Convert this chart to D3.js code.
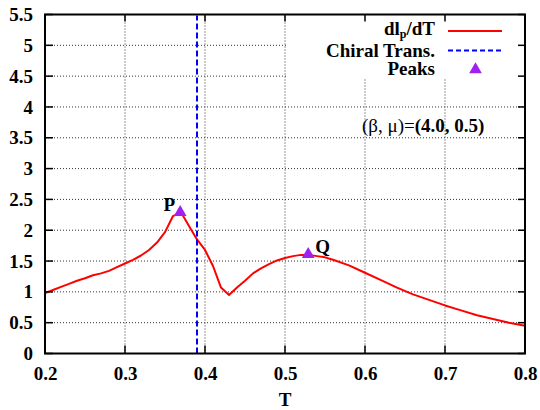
<!DOCTYPE html>
<html><head><meta charset="utf-8">
<script src="https://cdn.jsdelivr.net/npm/d3@7/dist/d3.min.js"></script>
<style>body{margin:0;background:#fff}svg{display:block}</style>
</head><body>
<svg id="c" width="540" height="410"></svg>
<script>
const T = [0.20,0.21,0.22,0.23,0.24,0.25,0.26,0.27,0.28,0.29,0.30,0.31,0.32,0.33,0.34,0.35,0.36,0.37,0.38,0.39,0.40,0.41,0.42,0.43,0.44,0.45,0.46,0.47,0.48,0.49,0.50,0.51,0.52,0.53,0.54,0.55,0.56,0.58,0.60,0.62,0.64,0.66,0.68,0.70,0.72,0.74,0.76,0.78,0.80];
const dIdT = [0.98,1.03,1.08,1.13,1.18,1.22,1.27,1.30,1.34,1.40,1.46,1.52,1.59,1.68,1.80,1.97,2.23,2.29,2.07,1.85,1.68,1.42,1.07,0.95,1.07,1.18,1.30,1.38,1.45,1.51,1.55,1.58,1.60,1.60,1.58,1.56,1.52,1.43,1.31,1.19,1.07,0.96,0.87,0.78,0.70,0.62,0.56,0.50,0.45];
const chiralT = 0.39;
const peakT = [0.369, 0.529];
const peakV = [2.29, 1.61];
const peakLabels = ["P", "Q"];
const xTicks = [0.2,0.3,0.4,0.5,0.6,0.7,0.8];
const yTicks = [0,0.5,1,1.5,2,2.5,3,3.5,4,4.5,5,5.5];
const legendLabels = ["dl_p/dT","Chiral Trans.","Peaks"];

const FONT = "'Liberation Serif','Times New Roman',Times,Tinos,'DejaVu Serif',serif";
const svg = d3.select("#c").style("font-family", FONT);
const L=45, R=525, Tp=14.5, B=353.5;
const x = d3.scaleLinear().domain([0.2,0.8]).range([L,R]);
const y = d3.scaleLinear().domain([0,5.5]).range([B,Tp]);
const purple = "#a020f0";

// grid
const g = svg.append("g");
g.selectAll(".gx").data(xTicks.slice(1,-1)).enter().append("line")
  .attr("x1",d=>x(d)).attr("x2",d=>x(d)).attr("y1",B).attr("y2",Tp)
  .attr("stroke","#333").attr("stroke-width",1).attr("stroke-dasharray","1,2");
g.selectAll(".gy").data(yTicks.slice(1,-1)).enter().append("line")
  .attr("y1",d=>y(d)).attr("y2",d=>y(d)).attr("x1",L).attr("x2",R)
  .attr("stroke","#333").attr("stroke-width",1).attr("stroke-dasharray","1,2");

// legend box (opaque)
svg.append("rect").attr("x",286).attr("y",Tp).attr("width",R-286).attr("height",79-Tp).attr("fill","#fff");

// curve
const line = d3.line().x((d,i)=>x(T[i])).y(d=>y(d));
svg.append("path").datum(dIdT).attr("d",line).attr("fill","none").attr("stroke","#ff0000").attr("stroke-width",2).attr("stroke-linejoin","round");

// chiral line
svg.append("line").attr("x1",x(chiralT)).attr("x2",x(chiralT)).attr("y1",B).attr("y2",Tp+1)
  .attr("stroke","#0000ff").attr("stroke-width",2).attr("stroke-dasharray","6,3");

// peaks
const tri = d3.symbol().type(d3.symbolTriangle).size(70);
svg.selectAll(".pk").data(peakT).enter().append("path")
  .attr("d",tri).attr("transform",(d,i)=>`translate(${x(d)},${y(peakV[i])})`).attr("fill",purple);
svg.selectAll(".pl").data(peakLabels).enter().append("text")
  .attr("x",(d,i)=>x(peakT[i])+(i===0?-11:7)).attr("y",(d,i)=>y(peakV[i])-1)
  .attr("text-anchor",(d,i)=>i===0?"middle":"start")
  .attr("font-size",19).attr("font-weight","bold").text(d=>d);

// axes
const xa = svg.append("g").attr("transform",`translate(0,${B})`)
  .call(d3.axisBottom(x).tickValues(xTicks).tickSize(0).tickPadding(13).tickFormat(d3.format(".1f")));
const ya = svg.append("g").attr("transform",`translate(${L},0)`)
  .call(d3.axisLeft(y).tickValues(yTicks).tickSize(0).tickPadding(12).tickFormat(d=>d));
[xa,ya].forEach(a=>{a.attr("font-family",FONT);a.select(".domain").remove();a.selectAll("text").attr("font-size",19).attr("font-weight","bold").attr("fill","#000");});

// inner ticks on all sides
const tk = svg.append("g").attr("stroke","#000").attr("stroke-width",1.5);
xTicks.forEach(d=>{
  tk.append("line").attr("x1",x(d)).attr("x2",x(d)).attr("y1",B).attr("y2",B-8);
  tk.append("line").attr("x1",x(d)).attr("x2",x(d)).attr("y1",Tp).attr("y2",Tp+7);
});
yTicks.forEach(d=>{
  tk.append("line").attr("y1",y(d)).attr("y2",y(d)).attr("x1",L).attr("x2",L+8);
  tk.append("line").attr("y1",y(d)).attr("y2",y(d)).attr("x1",R).attr("x2",R-7);
});

// border
svg.append("rect").attr("x",L).attr("y",Tp).attr("width",R-L).attr("height",B-Tp).attr("fill","none").attr("stroke","#000").attr("stroke-width",2);

// x label
svg.append("text").attr("x",(L+R)/2).attr("y",406).attr("text-anchor","middle").attr("font-size",19).attr("font-weight","bold").text("T");

// legend
const lg = svg.append("g").attr("font-size",19).attr("font-weight","bold");
const t0 = lg.append("text").attr("x",435).attr("y",35).attr("text-anchor","end");
t0.append("tspan").text("dl");
t0.append("tspan").attr("font-size",12).attr("dy",3).text("p");
t0.append("tspan").attr("dy",-3).text("/dT");
lg.append("text").attr("x",435).attr("y",56.5).attr("text-anchor","end").text(legendLabels[1]);
lg.append("text").attr("x",435).attr("y",75).attr("text-anchor","end").text(legendLabels[2]);
svg.append("line").attr("x1",448).attr("x2",502).attr("y1",31).attr("y2",31).attr("stroke","#ff0000").attr("stroke-width",2);
svg.append("line").attr("x1",448).attr("x2",502).attr("y1",50.5).attr("y2",50.5).attr("stroke","#0000ff").attr("stroke-width",2).attr("stroke-dasharray","5,3");
svg.append("path").attr("d",tri).attr("transform","translate(475.5,69.5)").attr("fill",purple);

// annotation
const an = svg.append("text").attr("x",362).attr("y",132).attr("font-size",19);
an.append("tspan").text("(β, μ)=");
an.append("tspan").attr("font-weight","bold").text("(4.0, 0.5)");
</script>
</body></html>
